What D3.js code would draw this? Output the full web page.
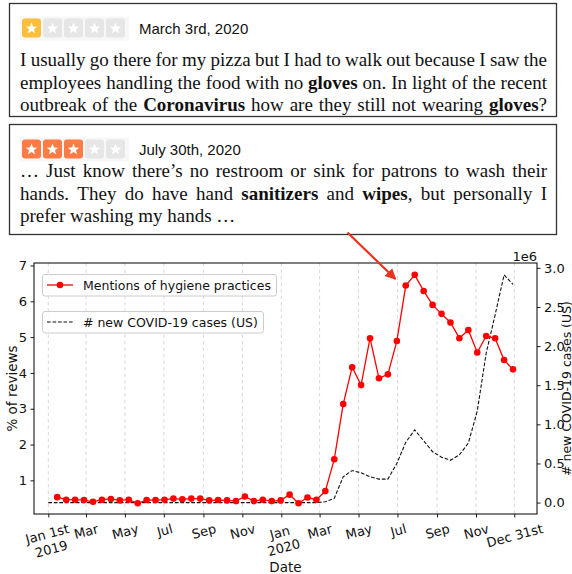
<!DOCTYPE html>
<html>
<head>
<meta charset="utf-8">
<script src="https://cdn.jsdelivr.net/npm/d3@7"></script>
<style>
body { margin: 0; background: #fff; }
svg { display: block; }
</style>
</head>
<body>
<div id="chart"></div>
<script>
// ---- data ----
// share of reviews mentioning hygiene practices (%), one point every two weeks from 2019-01-15
var hygieneValues = [0.53, 0.46, 0.46, 0.45, 0.40, 0.46, 0.48, 0.44, 0.46, 0.36, 0.45, 0.45, 0.46,
    0.49, 0.47, 0.49, 0.49, 0.44, 0.45, 0.44, 0.42, 0.55, 0.42, 0.46, 0.42, 0.44,
    0.60, 0.36, 0.52, 0.46, 0.70, 1.59, 3.13, 4.16, 3.66, 4.97, 3.85, 3.96, 4.89,
    6.44, 6.74, 6.29, 5.90, 5.65, 5.41, 4.97, 5.20, 4.57, 5.03, 4.97, 4.36, 4.10];
// new COVID-19 cases in the US (millions), first point 2019-01-01 then same dates as above
var caseValues = [0,
    0, 0, 0, 0, 0, 0, 0, 0, 0, 0, 0, 0, 0, 0, 0, 0, 0, 0, 0, 0, 0, 0, 0, 0, 0, 0,
    0, 0, 0, 0, 0.01, 0.055, 0.33, 0.41, 0.38, 0.33, 0.30, 0.30, 0.50, 0.77, 0.93,
    0.79, 0.65, 0.58, 0.54, 0.61, 0.76, 1.17, 1.91, 2.40, 2.91, 2.79];
var xTickDates = ["2019-01-01", "2019-03-01", "2019-05-01", "2019-07-01", "2019-09-01", "2019-11-01",
    "2020-01-01", "2020-03-01", "2020-05-01", "2020-07-01", "2020-09-01", "2020-11-01", "2020-12-31"];
var xTickLabels = [["Jan 1st", "2019"], ["Mar"], ["May"], ["Jul"], ["Sep"], ["Nov"],
    ["Jan", "2020"], ["Mar"], ["May"], ["Jul"], ["Sep"], ["Nov"], ["Dec 31st"]];
var leftTicks = [1, 2, 3, 4, 5, 6, 7];
var rightTicks = [0, 0.5, 1, 1.5, 2, 2.5, 3];

var reviews = [
    {stars: 1, color: "#fbbf3c", date: "March 3rd, 2020", lines: [
        {text: "I usually go there for my pizza but I had to walk out because I saw the", justify: true},
        {text: "employees handling the food with no **gloves** on. In light of the recent", justify: true},
        {text: "outbreak of the **Coronavirus** how are they still not wearing **gloves**?", justify: true}
    ]},
    {stars: 3, color: "#fd7c45", date: "July 30th, 2020", lines: [
        {text: "\u2026 Just know there\u2019s no restroom or sink for patrons to wash their", justify: true},
        {text: "hands. They do have hand **sanitizers** and **wipes**, but personally I", justify: true},
        {text: "prefer washing my hands \u2026", justify: false}
    ]}
];

var W = 572, H = 574;
var svg = d3.select("#chart").append("svg").attr("width", W).attr("height", H);

// ---- review boxes ----
var boxes = [{y: 3.5, h: 113, base: 66}, {y: 124.5, h: 110, base: 177}];

function starPath(r1, r2) {
    var pts = [];
    for (var k = 0; k < 10; k++) {
        var a = -Math.PI / 2 + k * Math.PI / 5;
        var r = k % 2 ? r2 : r1;
        pts.push([r * Math.cos(a), r * Math.sin(a)]);
    }
    return "M" + pts.join("L") + "Z";
}

function drawParagraph(g, lines, left, right, y, lh) {
    var bold = false;
    lines.forEach(function(line, li) {
        var words = line.text.split(" ");
        var nodes = words.map(function(w) {
            var t = g.append("text").attr("y", y + li * lh);
            w.split("**").forEach(function(part, k) {
                if (k > 0) bold = !bold;
                if (part) t.append("tspan").attr("font-weight", bold ? "bold" : null).text(part);
            });
            return t;
        });
        var widths = nodes.map(function(n) { return n.node().getComputedTextLength(); });
        var total = d3.sum(widths);
        var gap = line.justify ? (right - left - total) / (words.length - 1) : 4.75;
        var x = left;
        nodes.forEach(function(n, i) { n.attr("x", x); x += widths[i] + gap; });
    });
}

reviews.forEach(function(rv, bi) {
    var b = boxes[bi];
    var g = svg.append("g");
    g.append("rect")
        .attr("x", 9.5).attr("y", b.y).attr("width", 547).attr("height", b.h)
        .attr("fill", "#fff").attr("stroke", "#333").attr("stroke-width", 1.3);

    var sy = b.y + 15;
    g.append("rect").attr("x", 20).attr("y", sy - 2).attr("width", 109).attr("height", 24)
        .attr("fill", "#f7f7f7");
    d3.range(5).forEach(function(k) {
        var sx = 22 + k * 21;
        g.append("rect").attr("x", sx).attr("y", sy).attr("width", 19).attr("height", 19)
            .attr("rx", 3).attr("fill", k < rv.stars ? rv.color : "#e6e6e6");
        g.append("path").attr("d", starPath(6, 2.6))
            .attr("transform", "translate(" + (sx + 9.5) + "," + (sy + 10) + ")")
            .attr("fill", "#fff");
    });
    g.append("text").attr("x", 139).attr("y", sy + 15)
        .attr("font-family", "Liberation Sans, Arial, sans-serif").attr("font-size", 15)
        .attr("fill", "#111").text(rv.date);

    var tg = g.append("g").attr("font-family", "Liberation Serif, Times New Roman, serif")
        .attr("font-size", 19).attr("fill", "#111");
    drawParagraph(tg, rv.lines, 20, 547, b.base, 22.7);
});

// ---- chart ----
var x0 = 34, x1 = 537, y0 = 263, y1 = 514;
var parse = d3.timeParse("%Y-%m-%d");
var firstDate = parse("2019-01-15");
var hygieneDates = hygieneValues.map(function(v, i) { return d3.timeDay.offset(firstDate, 14 * i); });
var caseDates = [parse("2019-01-01")].concat(hygieneDates);
var tickDates = xTickDates.map(parse);

var x = d3.scaleTime()
    .domain([new Date(2018, 11, 9, 14), new Date(2021, 1, 4, 14)])
    .range([x0, x1]);
var yL = d3.scaleLinear().domain([0.06, 7.07]).range([y1, y0]);
var yR = d3.scaleLinear().domain([-0.146, 3.062]).range([y1, y0]);

var chartFont = "DejaVu Sans, sans-serif";

// vertical dashed grid
svg.append("g").selectAll("line").data(tickDates).join("line")
    .attr("x1", function(d) { return x(d); }).attr("x2", function(d) { return x(d); })
    .attr("y1", y0).attr("y2", y1)
    .attr("stroke", "#d9d9d9").attr("stroke-width", 1).attr("stroke-dasharray", "3.5,3");

// cases (right axis)
svg.append("path").datum(caseValues)
    .attr("fill", "none").attr("stroke", "#111").attr("stroke-width", 1.1)
    .attr("stroke-dasharray", "3.7,1.8")
    .attr("d", d3.line().x(function(d, i) { return x(caseDates[i]); }).y(function(d) { return yR(d); }));

// hygiene mentions (left axis)
svg.append("path").datum(hygieneValues)
    .attr("fill", "none").attr("stroke", "#ff0000").attr("stroke-width", 1.3)
    .attr("d", d3.line().x(function(d, i) { return x(hygieneDates[i]); }).y(function(d) { return yL(d); }));
svg.append("g").selectAll("circle").data(hygieneValues).join("circle")
    .attr("cx", function(d, i) { return x(hygieneDates[i]); })
    .attr("cy", function(d) { return yL(d); })
    .attr("r", 3.3).attr("fill", "#ff0000");

// axes
function styleAxis(g) {
    g.select(".domain").remove();
    g.attr("font-family", chartFont).attr("font-size", 13);
    g.selectAll(".tick line").attr("stroke", "#000").attr("stroke-width", 0.9);
    g.selectAll(".tick text").attr("fill", "#111");
}

svg.append("g").attr("transform", "translate(" + x0 + ",0)")
    .call(d3.axisLeft(yL).tickValues(leftTicks).tickSize(3.5).tickPadding(3.5).tickFormat(d3.format("d")))
    .call(styleAxis);

svg.append("g").attr("transform", "translate(" + x1 + ",0)")
    .call(d3.axisRight(yR).tickValues(rightTicks).tickSize(3.5).tickPadding(3.5).tickFormat(d3.format(".1f")))
    .call(styleAxis);

var xAxisG = svg.append("g").attr("transform", "translate(0," + y1 + ")")
    .call(d3.axisBottom(x).tickValues(tickDates).tickSize(3.5).tickFormat(function() { return ""; }))
    .call(styleAxis);

// rotated two-line tick labels, rotated box centred under the tick
xAxisG.selectAll(".tick").each(function(d, i) {
    var mid = d3.select(this).append("g");
    var rot = mid.append("g").attr("transform", "rotate(-15)");
    var t = rot.append("text").attr("text-anchor", "middle").attr("fill", "#111");
    xTickLabels[i].forEach(function(s, k) {
        t.append("tspan").attr("x", 0).attr("dy", k === 0 ? 0 : 15.6).text(s);
    });
    var bb = mid.node().getBBox();
    mid.attr("transform", "translate(" + (-(bb.x + bb.width / 2)) + "," + (7 - bb.y) + ")");
});

// frame
svg.append("rect").attr("x", x0).attr("y", y0).attr("width", x1 - x0).attr("height", y1 - y0)
    .attr("fill", "none").attr("stroke", "#000").attr("stroke-width", 1);

// axis labels
svg.append("text").attr("x", (x0 + x1) / 2).attr("y", 572).attr("text-anchor", "middle")
    .attr("font-family", chartFont).attr("font-size", 13.5).attr("fill", "#111").text("Date");
svg.append("text").attr("transform", "translate(16.5," + (y0 + y1) / 2 + ") rotate(-90)")
    .attr("text-anchor", "middle").attr("font-family", chartFont).attr("font-size", 13.5)
    .attr("fill", "#111").text("% of reviews");
svg.append("text").attr("transform", "translate(570.5," + (y0 + y1) / 2 + ") rotate(-90)")
    .attr("text-anchor", "middle").attr("font-family", chartFont).attr("font-size", 12.5)
    .attr("fill", "#111").text("# new COVID-19 cases (US)");
svg.append("text").attr("x", x1).attr("y", 261).attr("text-anchor", "end")
    .attr("font-family", chartFont).attr("font-size", 13).attr("fill", "#111").text("1e6");

// legends (two separate boxes)
var legends = [
    {y: 274, w: 234, label: "Mentions of hygiene practices", kind: "marker"},
    {y: 311, w: 221, label: "# new COVID-19 cases (US)", kind: "dash"}
];
legends.forEach(function(L) {
    var g = svg.append("g");
    g.append("rect").attr("x", 42.5).attr("y", L.y + 0.5).attr("width", L.w).attr("height", 21.5)
        .attr("rx", 2.5).attr("fill", "#fff").attr("fill-opacity", 0.8)
        .attr("stroke", "#cccccc").attr("stroke-width", 1);
    var cy = L.y + 11;
    if (L.kind === "marker") {
        g.append("line").attr("x1", 47).attr("x2", 73).attr("y1", cy).attr("y2", cy)
            .attr("stroke", "#ff0000").attr("stroke-width", 1.3);
        g.append("circle").attr("cx", 60).attr("cy", cy).attr("r", 3.3).attr("fill", "#ff0000");
    } else {
        g.append("line").attr("x1", 47).attr("x2", 73).attr("y1", cy).attr("y2", cy)
            .attr("stroke", "#111").attr("stroke-width", 1.1).attr("stroke-dasharray", "3.7,1.8");
    }
    g.append("text").attr("x", 83).attr("y", cy + 4.6)
        .attr("font-family", chartFont).attr("font-size", 12.5).attr("fill", "#111").text(L.label);
});

// annotation arrow from the July review to the peak
var defs = svg.append("defs");
defs.append("marker").attr("id", "arrowHead")
    .attr("viewBox", "0 0 10 10").attr("refX", 9).attr("refY", 5)
    .attr("markerWidth", 5).attr("markerHeight", 5).attr("orient", "auto")
    .attr("markerUnits", "strokeWidth")
    .append("path").attr("d", "M0,0L10,5L0,10Z").attr("fill", "#e8321e");
svg.append("line").attr("x1", 347.5).attr("y1", 232.5).attr("x2", 395.5).attr("y2", 279)
    .attr("stroke", "#e8321e").attr("stroke-width", 2.2).attr("marker-end", "url(#arrowHead)");
</script>
</body>
</html>
